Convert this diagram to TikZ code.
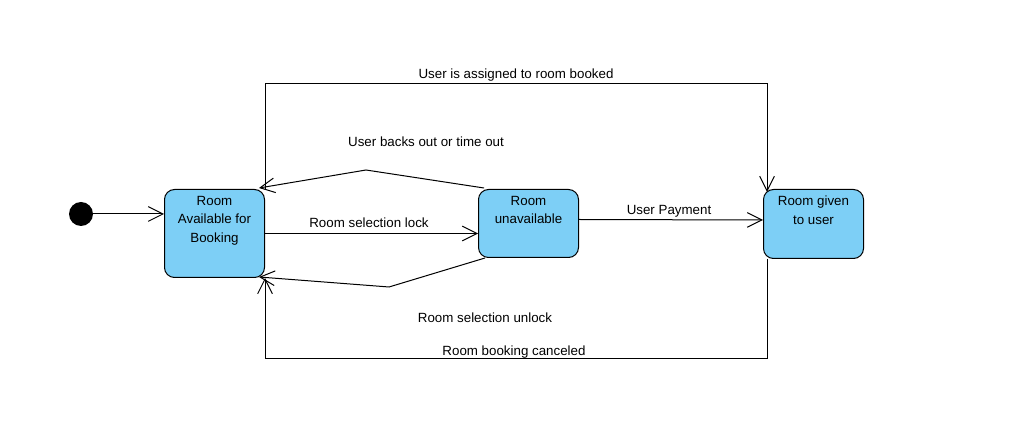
\documentclass[tikz,border=0pt]{standalone}
\usepackage{fontspec}
\setmainfont{Liberation Sans}
\usetikzlibrary{arrows.meta,calc}
\definecolor{stfill}{RGB}{125,207,246}
\begin{document}
\begin{tikzpicture}[x=0.75pt,y=-0.75pt,
  state/.style={draw=black,fill=stfill,rounded corners=7.5pt,line width=0.75pt,inner sep=0pt,minimum width=75pt,anchor=north west},
  stext/.style={anchor=north,align=center,font=\fontsize{10}{13.8}\selectfont,inner sep=0pt},
  lbl/.style={font=\fontsize{10}{12}\selectfont,inner sep=0pt},
  arr/.style={line width=0.75pt,-{Straight Barb[length=11pt,width=11pt,line width=0.75pt]}}]
\useasboundingbox (0,0) rectangle (1013,448);
\node[circle,fill=black,minimum size=18pt,inner sep=0pt] (init) at (81,214) {};
\node[state,minimum height=66pt] (A) at (164,189) {};
\node[state,minimum height=51pt] (B) at (478,189) {};
\node[state,minimum height=51.75pt] (C) at (763,189) {};
\node[stext] (At) at ($(A.north)+(0,7)$) {Room\\Available for\\Booking};
\node[stext] (Bt) at ($(B.north)+(0,7)$) {Room\\unavailable};
\node[stext] (Ct) at ($(C.north)+(0,7)$) {Room given\\to user};
\coordinate (topy) at (0,84);
\coordinate (boty) at (0,359);
\coordinate (bk) at (366,170);
\coordinate (ul) at (389,287);
\draw[arr] (init) -- (A.west |- init);
\draw[arr] (A.east) -- (B.west |- A.east);
\draw[arr] ($(B.east)+(0,-4)$) -- ($(C.west)+(0,-4)$);
\draw[arr] (A.north east) -- (A.north east |- topy) -- ($(C.north west |- topy)+(4,0)$) -- ($(C.north west)+(4,3)$);
\draw[arr] ($(C.south west)+(4,0)$) -- ($(C.south west |- boty)+(4,0)$) -- (A.south east |- boty) -- (A.south east);
\draw[arr] ($(B.north west)+(6,-1)$) -- (bk) -- ($(A.north east)+(-6,-1)$);
\draw[arr] ($(B.south west)+(7,0)$) -- (ul) -- ($(A.south east)+(-6,-1)$);
\node[lbl] (l1) at (516,75) {User is assigned to room booked};
\node[lbl] (l2) at (426,142) {User backs out or time out};
\node[lbl] (l3) at (369,223) {Room selection lock};
\node[lbl] (l4) at (669,211) {User Payment};
\node[lbl] (l5) at (485,318) {Room selection unlock};
\node[lbl] (l6) at (514,352) {Room booking canceled};
\end{tikzpicture}
\end{document}
